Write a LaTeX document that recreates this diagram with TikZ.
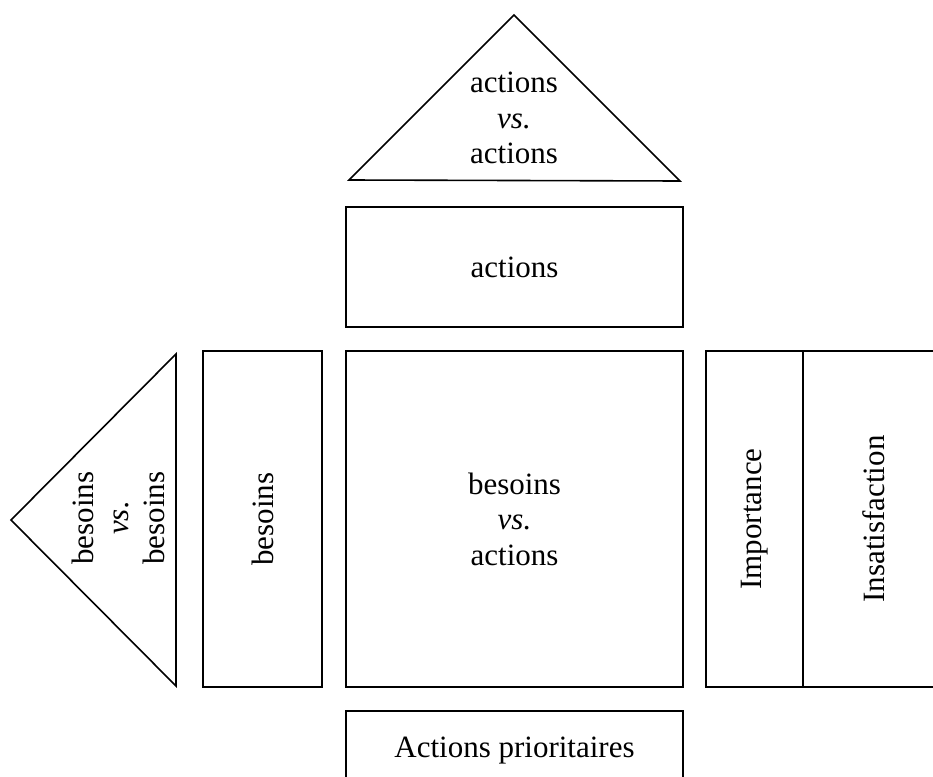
\documentclass[tikz,border=0pt]{standalone}
\usepackage{fontspec}
\setmainfont{Liberation Serif}
\begin{document}
\begin{tikzpicture}[x=1pt,y=-1pt,line width=1.6pt,
  box/.style={draw,inner sep=0pt,outer sep=0pt,align=center,font=\fontsize{31}{35.5}\selectfont},
  lbl/.style={inner sep=0pt,outer sep=0pt,align=center,font=\fontsize{31}{35.5}\selectfont}]
\useasboundingbox (0,0) rectangle (933,776);
\clip (0,0) rectangle (933,776);
% top triangle
\coordinate (ta) at (514,15);
\coordinate (tl) at (349,180);
\coordinate (tr) at (680,181);
\draw (ta) -- (tl) -- (tr) -- cycle;
\node[lbl] (aa) at (514,118) {actions\\\textit{vs.}\\actions};
% actions box
\node[box,minimum width=337pt,minimum height=120pt] (act) at (514.5,267) {actions};
% centre square
\node[box,minimum width=337pt,minimum height=336pt] (ba) at (514.5,519) {besoins\\\textit{vs.}\\actions};
% besoins box
\node[box,minimum width=119pt,minimum height=336pt] (bes) at (262.5,519) {};
\node[lbl,rotate=90] (besT) at (bes.center) {besoins};
% left triangle
\coordinate (la) at (11,520);
\coordinate (lt) at (176,354);
\coordinate (lb) at (176,686);
\draw (la) -- (lt) -- (lb) -- cycle;
\node[lbl,rotate=90] (bb) at (118,518) {besoins\\\textit{vs.}\\besoins};
% right columns
\node[box,minimum width=97pt,minimum height=336pt] (imp) at (754.5,519) {};
\node[lbl,rotate=90] (impT) at (imp.center) {Importance};
\node[box,minimum width=142pt,minimum height=336pt] (ins) at (874,519) {};
\node[lbl,rotate=90] (insT) at (ins.center) {Insatisfaction};
% bottom box
\node[box,minimum width=337pt,minimum height=79pt] (prio) at (514.5,750.5) {Actions prioritaires};
\end{tikzpicture}
\end{document}
